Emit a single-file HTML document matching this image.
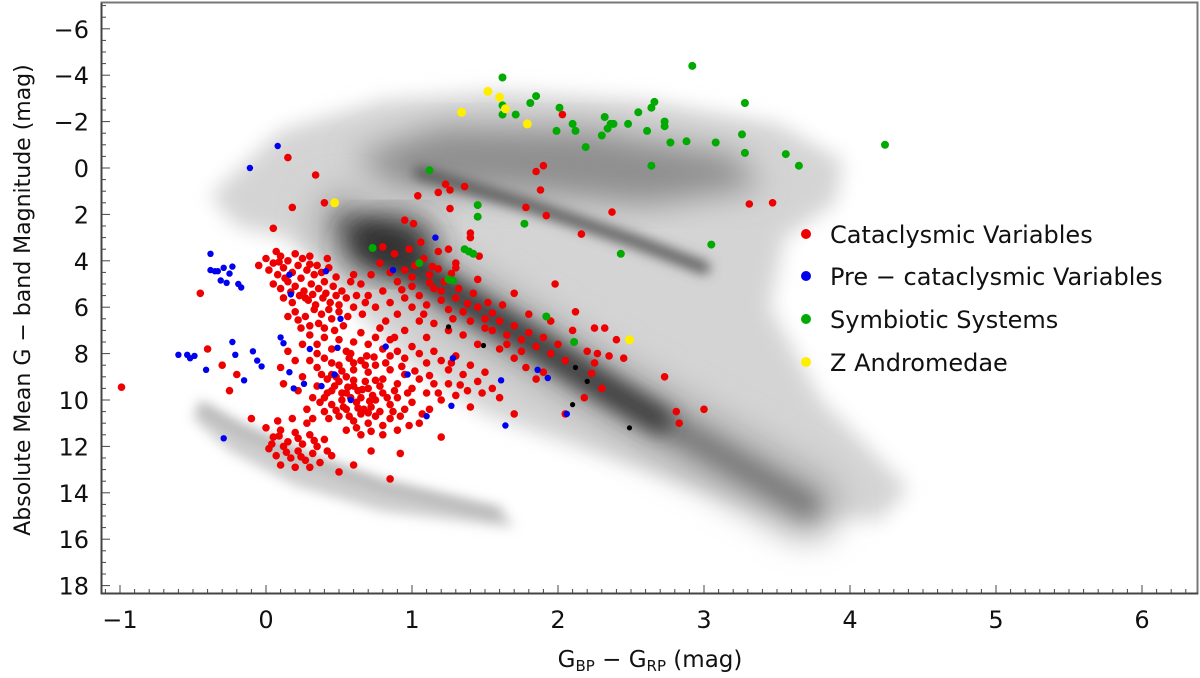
<!DOCTYPE html>
<html><head><meta charset="utf-8"><style>
html,body{margin:0;padding:0;background:#fff;}
svg{display:block;font-family:"DejaVu Sans","Liberation Sans",sans-serif;}
</style></head><body>
<svg id="chart" width="1200" height="678" viewBox="0 0 1200 678" xmlns="http://www.w3.org/2000/svg">
<defs>
<filter id="b6" x="-20%" y="-20%" width="140%" height="140%"><feGaussianBlur stdDeviation="6"/></filter>
<filter id="b10" x="-20%" y="-20%" width="140%" height="140%"><feGaussianBlur stdDeviation="10"/></filter>
<filter id="b16" x="-30%" y="-30%" width="160%" height="160%"><feGaussianBlur stdDeviation="16"/></filter>
<clipPath id="plotclip"><rect x="102" y="3" width="1096" height="590"/></clipPath>
</defs>
<g id="bg" clip-path="url(#plotclip)"></g>
<g id="marks"></g>
<g id="axes"></g>
<g id="legend"></g>
<text transform="translate(30,300) rotate(-90)" text-anchor="middle" font-size="22" fill="#111">Absolute Mean G − band Magnitude (mag)</text>
<text x="650" y="667" text-anchor="middle" font-size="23" fill="#111">G<tspan font-size="15" dy="4">BP</tspan><tspan dy="-4">  −  G</tspan><tspan font-size="15" dy="4">RP</tspan><tspan dy="-4"> (mag)</tspan></text>
</svg>
<script>
const xTicks = [-1,0,1,2,3,4,5,6];
const yTicks = [-6,-4,-2,0,2,4,6,8,10,12,14,16,18];
const legendLabels = ["Cataclysmic Variables","Pre − cataclysmic Variables","Symbiotic Systems","Z Andromedae"];
const legendColors = ["#ee0000","#0000ee","#00aa00","#ffee00"];
const symbioticPts = [[1.62,-3.9],[2.92,-4.4],[1.85,-3.1],[1.81,-2.8],[1.62,-2.7],[1.62,-2.3],[1.71,-2.3],[2.01,-2.6],[3.28,-2.8],[2.66,-2.85],[2.64,-2.6],[2.55,-2.4],[2.32,-2.2],[2.10,-1.9],[2.12,-1.6],[1.99,-1.6],[2.36,-1.9],[2.38,-1.9],[2.34,-1.7],[2.30,-1.4],[2.48,-1.9],[2.61,-1.6],[2.73,-2.0],[2.73,-1.8],[2.19,-0.9],[2.77,-1.1],[2.88,-1.15],[3.08,-1.1],[3.26,-1.45],[3.28,-0.65],[3.56,-0.6],[3.65,-0.1],[4.24,-1.0],[2.64,-0.1],[1.12,0.1],[1.45,1.6],[1.45,2.1],[1.77,2.4],[3.05,3.3],[2.43,3.7],[1.36,3.5],[1.42,3.7],[1.05,4.1],[1.25,4.8],[0.73,3.45],[1.39,3.6],[1.28,4.85],[1.92,6.4],[2.11,7.5]];
const zandPts = [[1.52,-3.3],[1.60,-3.05],[1.64,-2.55],[1.34,-2.4],[1.79,-1.9],[0.47,1.5],[2.49,7.4]];
const blackPts = [[1.25,6.85],[1.49,7.65],[2.12,8.6],[2.10,10.2],[2.2,9.2],[2.49,11.2]];
const preCvPts = [[-0.38,3.7],[-0.38,4.4],[-0.35,4.45],[-0.33,4.45],[-0.29,4.3],[-0.23,4.25],[-0.25,4.55],[-0.31,4.85],[-0.27,4.95],[-0.19,5.0],[-0.17,5.15],[0.16,4.6],[0.17,5.45],[0.41,4.45],[0.51,6.5],[1.16,3.0],[0.87,4.4],[-0.23,7.5],[-0.21,8.05],[-0.60,8.05],[-0.54,8.05],[-0.52,8.2],[-0.49,8.1],[-0.41,8.7],[-0.09,7.9],[-0.06,8.3],[-0.03,8.55],[0.10,7.3],[0.12,7.55],[-0.15,9.15],[0.16,8.8],[0.19,9.5],[0.26,9.3],[0.30,7.8],[0.49,7.75],[0.47,8.9],[0.38,9.4],[0.58,10.0],[0.82,7.7],[0.97,8.9],[1.10,10.7],[1.27,10.25],[1.28,8.2],[1.61,9.15],[1.64,11.1],[1.86,8.7],[1.93,9.05],[2.06,10.6],[-0.29,11.65],[0.08,-0.95],[-0.11,0.0]];
const cvPts = [
[0.00,3.9],[0.05,4.1],[0.1,3.8],[0.15,4.0],[0.2,3.7],[0.25,3.9],[0.3,3.8],[0.35,4.2],[0.02,4.4],[0.08,4.6],[0.12,4.3],[0.18,4.5],[0.22,4.2],[0.28,4.4],[0.33,4.6],[0.38,4.5],[0.43,4.3],[0.48,4.7],[0.05,5.0],[0.1,5.2],[0.15,4.9],[0.2,5.1],[0.26,5.3],[0.31,5.0],[0.36,5.2],[0.41,5.4],[0.46,5.1],[0.52,5.3],[0.12,5.6],[0.18,5.8],[0.23,5.5],[0.29,5.7],[0.34,5.9],[0.39,5.6],[0.44,5.8],[0.5,5.9],[0.55,5.6],[0.2,6.2],[0.27,6.4],[0.33,6.1],[0.38,6.3],[0.45,6.5],[0.5,6.2],[0.56,6.4],[0.6,6.0],[0.62,5.5],[0.58,4.9],[0.42,3.9],[0.3,6.8],[0.24,6.9],[0.4,6.9],[0.47,7.0],[0.15,6.4],[-0.05,4.2],[0.07,3.6],
[0.13,4.75],[0.24,4.75],[0.3,4.15],[0.4,4.9],[0.27,5.6],[0.43,6.1],[0.36,6.7],[0.53,6.8],[0.66,6.3],[0.6,4.6],[0.68,5.8],[0.09,4.05],[0.17,5.35],[0.32,5.45],[0.48,5.5],[0.22,6.55],
[0.65,5.0],[0.7,5.5],[0.75,6.0],[0.8,5.3],[0.85,5.8],[0.9,6.3],[0.95,5.6],[1.0,6.0],[0.72,4.6],[0.78,4.1],[0.85,4.5],[0.9,4.9],[0.95,4.4],[1.0,5.1],[1.05,5.5],[1.1,5.9],[1.15,5.2],[1.2,5.7],[1.25,6.1],[1.3,5.6],[1.35,6.2],[1.4,6.6],[1.45,6.0],[1.5,6.5],[1.55,7.0],[1.6,6.6],[1.65,7.2],[1.7,6.8],[1.75,7.4],[1.8,7.1],[1.85,7.7],[1.9,7.3],[1.95,8.0],[2.0,7.6],[2.05,8.3],[1.6,7.8],[1.7,8.2],[1.78,8.6],[1.85,9.1],[1.9,8.8],[1.35,7.2],[1.45,7.6],[1.25,7.0],[1.15,6.7],[1.05,6.6],[0.95,7.0],[1.02,4.2],[1.12,4.6],[1.22,4.9],[1.32,5.2],[1.42,5.4],[1.52,5.8],[0.88,3.7],[0.98,3.5],[1.08,3.9],[1.18,3.6],[0.8,3.4],[1.3,4.3],[1.45,4.8],[1.62,5.9],[1.7,5.4],[1.8,6.3],[1.95,6.6],[2.1,7.0],[2.2,7.9],[2.25,8.4],[2.3,9.5],[2.18,9.9],[2.05,10.6],[2.35,8.1],[1.98,5.0],[2.12,6.2],[2.25,6.9],[2.4,7.4],[2.45,8.2],
[0.82,6.6],[1.08,6.3],[1.28,6.5],[1.38,5.85],[1.2,5.3],[0.93,5.25],[1.12,4.95],[1.5,6.9],[1.65,7.6],[1.55,6.25],[1.75,7.9],[0.78,6.9],[0.88,7.3],[1.1,7.3],[1.0,4.7],[1.27,4.55],
[0.3,7.2],[0.35,7.6],[0.4,7.3],[0.45,7.8],[0.5,7.4],[0.55,7.9],[0.6,7.5],[0.65,7.1],[0.7,7.6],[0.75,7.3],[0.8,7.8],[0.85,7.4],[0.9,7.9],[0.95,8.2],[1.0,7.7],[1.05,8.0],[1.1,8.4],[1.15,7.9],[1.2,8.3],[1.25,8.7],[1.3,8.1],[1.35,8.9],[1.4,8.5],[1.45,9.2],[1.5,8.8],[1.55,9.5],[0.3,8.3],[0.35,8.6],[0.4,8.2],[0.45,8.9],[0.5,8.5],[0.55,9.0],[0.6,8.7],[0.65,8.3],[0.7,8.8],[0.75,8.5],[0.8,9.1],[0.85,8.7],[0.9,9.3],[0.95,8.9],[1.0,9.5],[1.05,9.1],[1.1,9.7],[1.15,9.3],[1.2,10.0],[1.3,9.8],[1.4,10.3],[0.35,9.4],[0.4,9.9],[0.45,9.6],[0.5,9.2],[0.55,9.7],[0.6,9.4],[0.65,9.9],[0.7,9.5],[0.75,10.0],[0.8,9.7],[0.85,10.2],[0.9,9.9],[0.95,10.4],[1.0,10.1],[0.4,10.5],[0.45,10.2],[0.5,10.7],[0.55,10.4],[0.6,10.9],[0.65,10.6],[0.7,11.0],[0.75,10.7],[0.8,11.1],[0.85,10.8],[0.9,11.3],[1.05,11.0],[1.2,11.6],[0.55,11.3],[0.65,11.5],[0.48,9.0],[0.62,10.1],[0.72,10.3],[0.58,9.9],[0.68,9.2],[0.78,9.4],[0.52,10.0],[0.42,9.1],[0.32,9.9],[0.25,9.0],[0.2,8.3],[0.22,9.6],[0.28,10.4],[0.15,7.9],[0.1,8.6],[0.12,9.3],
[0.57,8.2],[0.63,9.6],[0.53,10.3],[0.67,10.4],[0.73,9.8],[0.47,9.4],[0.58,8.0],[0.69,8.1],[0.82,8.4],[0.88,9.6],[0.78,10.5],[0.62,11.2],[0.43,10.8],[0.37,10.1],[0.92,10.7],[1.12,10.4],[1.25,9.3],[1.38,9.6],[1.6,9.9],[1.7,10.6],
[0.52,8.75],[0.6,9.15],[0.66,9.55],[0.56,9.45],[0.71,10.05],[0.63,10.35],[0.57,10.7],[0.7,10.55],[0.75,9.15],[0.68,8.5],[0.48,10.45],[0.52,9.7],[0.42,9.7],[0.45,8.4],[0.38,8.9],[0.83,9.9],[0.87,10.5],[0.97,9.7],[1.07,10.6],[0.93,8.55],[1.02,8.75],[1.12,8.95],[1.18,9.7],[0.32,10.8],[0.72,11.35],[0.8,11.5],[0.98,11.1],[0.35,8.0],[0.25,7.6],[0.6,8.4],[0.74,8.15],[0.85,8.1],[1.27,8.4],[1.33,9.35],[1.48,9.7],
[0.0,11.2],[0.05,11.6],[0.1,11.3],[0.15,11.8],[0.2,11.4],[0.25,11.9],[0.3,11.5],[0.35,12.0],[0.4,11.7],[0.02,12.1],[0.07,12.4],[0.12,12.0],[0.17,12.5],[0.22,12.2],[0.27,12.6],[0.32,12.3],[0.37,12.7],[0.08,10.9],[0.18,10.8],[0.28,11.0],[0.45,12.4],[0.5,13.1],[0.6,12.8],[0.1,12.8],[0.2,12.9],[0.85,13.4],[0.72,12.2],[0.92,12.3],
[0.04,11.9],[0.14,12.25],[0.24,12.45],[0.09,11.55],[0.22,11.65],[0.33,11.75],[0.42,12.2],[0.3,12.9],
[-0.99,9.45],[0.15,-0.45],[0.34,0.3],[0.18,1.7],[0.4,1.5],[0.05,2.6],[3.47,1.5],[2.03,-2.3],[1.90,-0.1],[1.85,0.15],[1.88,0.95],[3.31,1.55],[2.37,1.9],[2.16,2.85],[1.92,2.05],[1.78,1.7],[1.36,0.8],[1.23,0.7],[1.26,0.95],[1.18,1.05],[1.04,1.2],[1.26,1.75],[0.95,2.25],[1.01,2.4],[1.06,3.2],[1.40,2.8],[1.40,3.0],[1.25,3.5],[1.46,3.8],[1.3,4.1],[1.14,4.25],[1.18,4.35],
[2.32,6.9],[2.27,8.0],[2.23,8.85],[2.73,9.0],[2.81,10.5],[3.0,10.4],[2.83,11.0],[-0.45,5.4],[-0.4,7.8],[-0.3,8.5],[-0.2,8.9],[-0.1,10.8],[-0.25,9.6]
];
// background density shapes (in data units)
const lightHull = [[-0.38,1.2],[0.1,-1.6],[0.8,-2.9],[1.6,-3.3],[2.6,-2.9],[3.5,-1.9],[3.95,-0.3],[3.9,1.5],[3.55,3],[3.45,6],[3.8,10],[4.4,13.8],[4.2,15.2],[3.4,14.6],[2.4,12.6],[1.5,10.6],[1.0,8.5],[0.6,6],[0.35,4],[0.15,3],[-0.2,2.5]];
const wdBand = [[-0.45,10.0],[-0.2,10.9],[0.3,12.3],[0.8,13.4],[1.6,14.6],[1.7,15.5],[0.8,14.8],[0.2,13.7],[-0.25,12.2],[-0.5,10.8]];
const giantBlob = [[0.6,-0.5],[1.2,-1.8],[2.2,-1.7],[3.2,-0.6],[3.4,0.8],[2.6,1.6],[1.6,1.0],[0.9,0.9]];
const rgbStreak = [[1.05,0.2],[1.8,1.6],[2.5,3.1],[3.0,4.3]];
const msCore = [[0.55,2.4],[0.9,3.8],[1.3,5.5],[1.8,7.4],[2.3,9.4],[2.9,11.6],[3.4,13.4],[3.7,14.5]];
const msDark = [[0.7,3.0],[1.3,5.5],[1.8,7.4],[2.3,9.4],[2.7,10.9]];

const NS = "http://www.w3.org/2000/svg";
const X = c => 266 + 146 * c;
const Y = m => 168 + 23.2 * m;
function mk(tag, attrs, parent){const e=document.createElementNS(NS,tag);for(const k in attrs)e.setAttribute(k,attrs[k]);parent.appendChild(e);return e;}
function pts(arr){return arr.map(p=>X(p[0]).toFixed(1)+","+Y(p[1]).toFixed(1)).join(" ");}

const bg = document.getElementById("bg");
let e;
e = mk("polygon",{points:pts(lightHull),fill:"#d4d4d4",filter:"url(#b10)"},bg);


e = mk("polygon",{points:pts(wdBand),fill:"#cdcdcd",filter:"url(#b6)"},bg);


e = mk("polyline",{points:pts(wdBand.slice(0,5)),fill:"none",stroke:"#a8a8a8",'stroke-width':6,filter:"url(#b6)",transform:"translate(0,8)"},bg);


e = mk("polygon",{points:pts(giantBlob),fill:"#8f8f8f",filter:"url(#b16)"},bg);


e = mk("polyline",{points:pts(msCore),fill:"none",stroke:"#b0b0b0","stroke-width":70,"stroke-linecap":"round",filter:"url(#b16)"},bg);


e = mk("polyline",{points:pts(msCore),fill:"none",stroke:"#7a7a7a","stroke-width":26,"stroke-linecap":"round",filter:"url(#b10)"},bg);


e = mk("polyline",{points:pts(msDark),fill:"none",stroke:"#3a3a3a","stroke-width":24,"stroke-linecap":"round",filter:"url(#b10)"},bg);


e = mk("polyline",{points:pts(rgbStreak),fill:"none",stroke:"#555","stroke-width":12,"stroke-linecap":"round",filter:"url(#b6)"},bg);


e = mk("ellipse",{cx:X(0.85),cy:Y(3.3),rx:45,ry:28,fill:"#333",filter:"url(#b16)"},bg);



const marks = document.getElementById("marks");
function drawSeries(arr, color, r, name){
  const g = mk("g",{},marks);
  
  
  arr.forEach(p=>{
    const c = mk("circle",{cx:X(p[0]).toFixed(1),cy:Y(p[1]).toFixed(1),r:r,fill:color},g);
    
    
  });
}
drawSeries(cvPts,"#ee0000",3.8,"cataclysmic-variables");
drawSeries(preCvPts,"#0000ee",3.2,"pre-cataclysmic-variables");
drawSeries(blackPts,"#000",2.6,"other-objects");
drawSeries(symbioticPts,"#00aa00",4.0,"symbiotic-systems");
drawSeries(zandPts,"#ffee00",4.5,"z-andromedae");

const ax = document.getElementById("axes");
e = mk("rect",{x:101.5,y:2.5,width:1096,height:591,fill:"none",stroke:"#777","stroke-width":2},ax);


e = mk("line",{x1:101,y1:593.5,x2:1198,y2:593.5,stroke:"#444","stroke-width":2},ax);


e = mk("line",{x1:101.5,y1:3,x2:101.5,y2:594,stroke:"#444","stroke-width":2},ax);


for(let i=-11;i<=63;i++){
  const c=i/10, px=X(c); if(px<103||px>1197) continue;
  const major = i%10===0;
  mk("line",{x1:px,y1:593,x2:px,y2:major?585:589,stroke:"#444","stroke-width":1},ax);
}
for(let i=-14;i<=38;i++){
  const m=i/2, py=Y(m); if(py<4||py>592) continue;
  const major = i%4===0;
  mk("line",{x1:102,y1:py,x2:major?110:106,y2:py,stroke:"#444","stroke-width":1},ax);
}
xTicks.forEach(t=>{
  const tx = mk("text",{x:X(t),y:628,"text-anchor":"middle","font-size":24,fill:"#111"},ax);
  tx.textContent = t<0 ? "−"+Math.abs(t) : String(t);
  
  
});
yTicks.forEach(t=>{
  const tx = mk("text",{x:89,y:Y(t)+9,"text-anchor":"end","font-size":24,fill:"#111"},ax);
  tx.textContent = t<0 ? "−"+Math.abs(t) : String(t);
  
  
});

const lg = document.getElementById("legend");
const legendY = [234,276,319,362];
legendLabels.forEach((lab,i)=>{
  const g = mk("g",{},lg);
  
  
  mk("circle",{cx:806,cy:legendY[i],r:5,fill:legendColors[i]},g);
  const t = mk("text",{x:830,y:legendY[i]+9,"font-size":24,fill:"#111"},g);
  t.textContent = lab;
});
</script>
</body></html>
